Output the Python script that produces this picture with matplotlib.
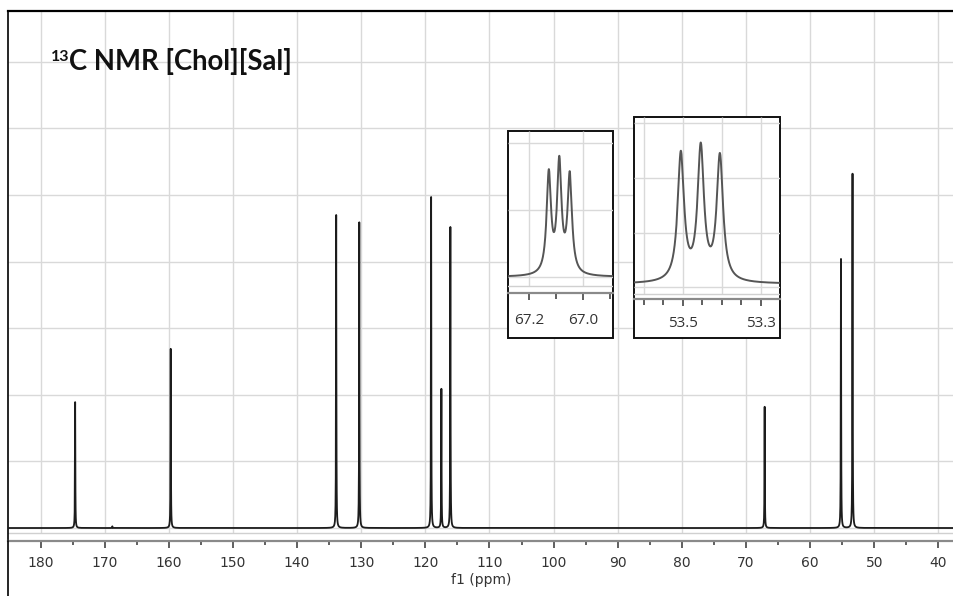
import numpy as np
import matplotlib
matplotlib.use('Agg')
import matplotlib.pyplot as plt
from matplotlib.patches import Rectangle
from matplotlib.lines import Line2D
from matplotlib.ticker import FixedLocator, NullFormatter

# ---------------- data ----------------
title_sup = "13"
title_text = "C NMR [Chol][Sal]"
x_label = "f1 (ppm)"

main_ppm = [174.6, 168.8, 159.7, 133.9, 130.3, 119.1, 117.5, 116.1, 67.1, 55.2, 53.4]
main_height = [1.89, 0.025, 2.69, 4.70, 4.59, 4.97, 2.09, 4.52, 1.82, 4.04, 5.32]
main_ticks = list(range(40, 190, 10))
main_minor = [t + 5 for t in range(40, 180, 10)]

inset1_ppm = [67.127, 67.088, 67.049]
inset1_height = [1.61, 1.81, 1.58]
inset1_ticks = [67.2, 67.0]
inset1_labels = ["67.2", "67.0"]
inset1_minor = [67.1, 66.9]

inset2_ppm = [53.505, 53.454, 53.405]
inset2_height = [2.43, 2.58, 2.39]
inset2_baseline = 0.065
inset2_ticks = [53.5, 53.3]
inset2_labels = ["53.5", "53.3"]
inset2_minor = [53.6, 53.55, 53.45, 53.4, 53.35]

# ---------------- helpers ----------------
W, H = 954, 596


def fx(px):
    return px / W


def fy(py):
    return 1 - py / H


def lorentz(x, c, g):
    return g ** 2 / ((x - c) ** 2 + g ** 2)


def spectrum(x, centers, heights, g, base=0.0):
    c = np.asarray(centers, float)
    h = np.asarray(heights, float)
    M = lorentz(c[:, None], c[None, :], g)
    amps = np.linalg.solve(M, h)
    y = np.full_like(x, base, dtype=float)
    for a, ci in zip(amps, c):
        y += a * lorentz(x, ci, g)
    return y


GRID = '#d9d9d9'
fig = plt.figure(figsize=(W / 100, H / 100), dpi=100)
fig.patch.set_facecolor('white')

# ---------------- main axes ----------------
ax = fig.add_axes([fx(8), fy(541), 1 - fx(8), (541 - 11) / H], zorder=0)
xl = (185.07, 37.58)
yl = (-0.195, 7.763)
ax.set_xlim(*xl)
ax.set_ylim(*yl)

ax.hlines(range(0, 8), xl[1], xl[0], color=GRID, lw=1.0, zorder=0)
ax.vlines(main_ticks, -0.075, yl[1], color=GRID, lw=1.0, zorder=0)
ax.axhline(-0.075, color='#d0d0d0', lw=1.0, zorder=1)

x = np.sort(np.concatenate([np.linspace(37, 186, 60000), main_ppm]))
y = spectrum(x, main_ppm, main_height, 0.03)
ax.plot(x, y, color='#1c1c1c', lw=1.3, zorder=3)

ax.spines['right'].set_visible(False)
ax.spines['top'].set_color('black')
ax.spines['top'].set_linewidth(1.6)
ax.spines['left'].set_color('black')
ax.spines['left'].set_linewidth(1.2)
ax.spines['bottom'].set_color('#8a8a8a')
ax.spines['bottom'].set_linewidth(1.6)

ax.set_yticks([])
ax.xaxis.set_major_locator(FixedLocator(main_ticks))
ax.xaxis.set_minor_locator(FixedLocator(main_minor))
ax.set_xticklabels([str(t) for t in main_ticks])
ax.tick_params(axis='x', which='major', direction='out', length=5, width=1.2,
               color='#444444', labelsize=10, labelcolor='#333333', pad=6)
ax.tick_params(axis='x', which='minor', direction='out', length=3, width=1.2,
               color='#444444')
for lab in ax.get_xticklabels():
    lab.set_family('DejaVu Sans')
ax.set_xlabel(x_label, fontsize=10, color='#333333', labelpad=2, family='DejaVu Sans')

# left border extends to bottom of figure
fig.add_artist(Line2D([fx(8), fx(8)], [0, fy(541)], color='black', lw=1.2,
                      transform=fig.transFigure))

# title
fig.text(fx(51), fy(61), title_sup, fontsize=11.5, fontweight='bold',
         family=['Lato', 'DejaVu Sans'], color='#111111', va='baseline', ha='left')
fig.text(fx(69), fy(70), title_text, fontsize=19.8, fontweight='bold',
         family=['Lato', 'DejaVu Sans'], color='#111111', va='baseline', ha='left')


# ---------------- insets ----------------
def make_inset(left, right, top, plot_bottom, box_bottom, xlim, ylim, light_y,
               ppm, heights, base, ticks, labels, minor, hgrid, vgrid, pad):
    rect = Rectangle((fx(left), fy(box_bottom)), fx(right) - fx(left),
                     fy(top) - fy(box_bottom), transform=fig.transFigure,
                     facecolor='white', edgecolor='#111111', lw=1.4, zorder=0.5)
    fig.add_artist(rect)
    ia = fig.add_axes([fx(left), fy(plot_bottom), fx(right) - fx(left),
                       fy(top) - fy(plot_bottom)], zorder=1)
    ia.set_facecolor('none')
    ia.set_xlim(*xlim)
    ia.set_ylim(*ylim)
    ia.hlines(hgrid, xlim[1], xlim[0], color=GRID, lw=1.0, zorder=0)
    ia.vlines(vgrid, light_y, ylim[1], color=GRID, lw=1.0, zorder=0)
    ia.axhline(light_y, color='#d0d0d0', lw=1.0, zorder=1)
    xs = np.linspace(min(xlim), max(xlim), 3000)
    ys = spectrum(xs, ppm, heights, 0.0098, base)
    ia.plot(xs, ys, color='#555555', lw=1.4, zorder=3)
    for s in ['top', 'left', 'right']:
        ia.spines[s].set_visible(False)
    ia.spines['bottom'].set_color('#8a8a8a')
    ia.spines['bottom'].set_linewidth(1.6)
    ia.set_yticks([])
    ia.xaxis.set_major_locator(FixedLocator(ticks))
    ia.set_xticklabels(labels)
    ia.xaxis.set_minor_locator(FixedLocator(minor))
    ia.xaxis.set_minor_formatter(NullFormatter())
    ia.tick_params(axis='x', which='major', direction='out', length=5, width=1.2,
                   color='#444444', labelsize=11, labelcolor='#333333', pad=pad)
    ia.tick_params(axis='x', which='minor', direction='out', length=4, width=1.2,
                   color='#444444')
    for lab in ia.get_xticklabels():
        lab.set_family(['Open Sans', 'DejaVu Sans'])
    return ia


make_inset(508, 613, 131, 293, 338, (67.279, 66.888), (-0.24, 2.18), -0.134,
           inset1_ppm, inset1_height, 0.0, inset1_ticks, inset1_labels, inset1_minor,
           [0, 1, 2], inset1_ticks, 9.5)

make_inset(634, 780, 117, 299, 338, (53.625, 53.251), (-0.21, 3.11), -0.12,
           inset2_ppm, inset2_height, inset2_baseline, inset2_ticks, inset2_labels,
           inset2_minor, [0, 1, 2, 3], [53.6, 53.5, 53.4, 53.3], 7.5)

fig.savefig('out.png', dpi=100, facecolor='white')
